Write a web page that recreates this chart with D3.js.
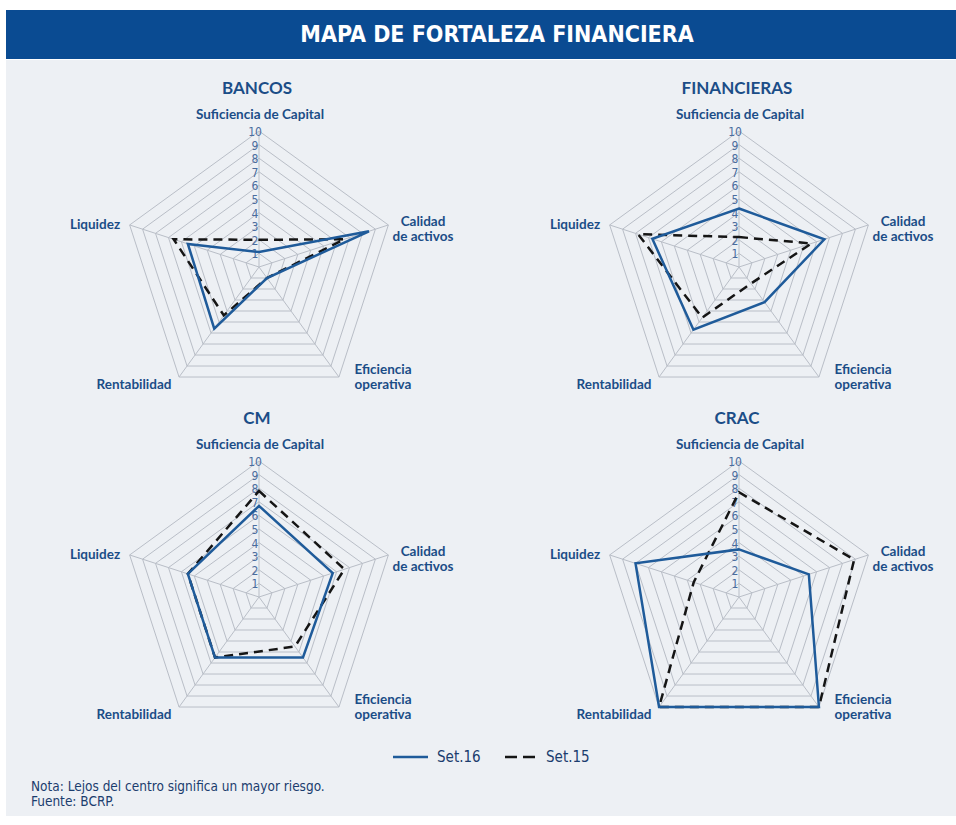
<!DOCTYPE html>
<html>
<head>
<meta charset="utf-8">
<script src="https://cdn.jsdelivr.net/npm/d3@7"></script>
<style>
body{margin:0;background:#fff;}
</style>
</head>
<body>
<div id="chart"></div>
<script>
// ejes del mapa (en el orden del radar, desde arriba en sentido horario)
const axes = ["Suficiencia de Capital","Calidad de activos","Eficiencia operativa","Rentabilidad","Liquidez"];
const axisLines = [["Suficiencia de Capital"],["Calidad","de activos"],["Eficiencia","operativa"],["Rentabilidad"],["Liquidez"]];
const panels = ["BANCOS","FINANCIERAS","CM","CRAC"];
const ticks = [1,2,3,4,5,6,7,8,9,10];
const seriesNames = ["Set.16","Set.15"];

// valores por panel, mismo orden que axes
const set16 = [
  [1.1, 8.5, 1.0, 5.6, 5.5],
  [4.3, 6.6, 3.2, 5.7, 6.7],
  [6.7, 5.7, 5.5, 5.5, 5.5],
  [3.5, 5.4, 10, 10, 8.0]
];
const set15 = [
  [2.0, 6.6, 1.0, 4.4, 6.6],
  [2.2, 5.6, 1.5, 4.6, 7.8],
  [7.8, 6.6, 4.5, 5.5, 5.5],
  [7.7, 8.9, 10, 10, 3.5]
];

let width = 956;
let height = 825;
let R = 136;
let centers = [[259,267],[739,267],[259,597],[739,597]];
// centro de las etiquetas de los ejes respecto al centro del radar
let labelPos = [
  {dx:1, dy:-148},
  {dx:164, dy:-41},
  {dx:124, dy:107},
  {dx:-125, dy:122},
  {dx:-164, dy:-38}
];
let blue = "#1f5b9a";
let labelBlue = "#1b4d87";
let narrow = "'Liberation Sans Narrow','DejaVu Sans Condensed',sans-serif";

let svg = d3.select("#chart").append("svg")
  .attr("width", width).attr("height", height);

svg.append("rect").attr("x",6).attr("y",60).attr("width",width-6).attr("height",756)
  .attr("fill","#edf0f4");
svg.append("rect").attr("x",6).attr("y",10).attr("width",width-6).attr("height",49)
  .attr("fill","#0a4b92");
svg.append("text").text("MAPA DE FORTALEZA FINANCIERA")
  .attr("x",497).attr("y",42)
  .attr("text-anchor","middle")
  .attr("fill","white")
  .style("font-family",narrow)
  .style("font-stretch","condensed")
  .style("font-weight","bold")
  .style("font-size","23px");

let r = d3.scaleLinear().domain([0,10]).range([0,R]);
let angle = i => i*2*Math.PI/axes.length;

let radar = d3.lineRadial()
  .angle((d,i)=>angle(i))
  .radius(d=>r(d))
  .curve(d3.curveLinearClosed);

panels.forEach(function(name,p){
  let cx = centers[p][0], cy = centers[p][1];
  let g = svg.append("g").attr("transform","translate("+cx+","+cy+")");

  // anillos
  g.selectAll(".ring").data(ticks).enter().append("path")
    .attr("d", t=>radar(axes.map(()=>t)))
    .attr("fill","none")
    .attr("stroke","#b9bec7")
    .attr("stroke-width",1);

  // radios
  g.selectAll(".spoke").data(axes).enter().append("line")
    .attr("x1",0).attr("y1",0)
    .attr("x2",(d,i)=>r(10)*Math.sin(angle(i)))
    .attr("y2",(d,i)=>-r(10)*Math.cos(angle(i)))
    .attr("stroke","#b9bec7")
    .attr("stroke-width",1);

  // numeros del eje
  g.selectAll(".tick").data(ticks).enter().append("text")
    .text(d=>d)
    .attr("x",-4)
    .attr("y",d=>-r(d)+5)
    .attr("text-anchor","middle")
    .attr("fill","#4a6c9e")
    .style("font-family",narrow)
    .style("font-size","12px");

  // series
  g.append("path").datum(set15[p])
    .attr("d",radar)
    .attr("fill","none")
    .attr("stroke","#151515")
    .attr("stroke-width",2.5)
    .attr("stroke-dasharray","9,6");
  g.append("path").datum(set16[p])
    .attr("d",radar)
    .attr("fill","none")
    .attr("stroke",blue)
    .attr("stroke-width",2.5);

  // etiquetas de ejes
  axisLines.forEach(function(lines,i){
    let t = g.append("text")
      .attr("y",labelPos[i].dy)
      .attr("text-anchor","middle")
      .attr("fill",labelBlue)
      .style("font-family","Lato,sans-serif")
      .style("font-weight","bold")
      .style("font-size","13.5px");
    lines.forEach(function(l,j){
      t.append("tspan").text(l)
        .attr("x",labelPos[i].dx)
        .attr("dy", j==0?0:15);
    });
  });

  g.append("text").text(name)
    .attr("x",-2).attr("y",-173)
    .attr("text-anchor","middle")
    .attr("fill",labelBlue)
    .style("font-family","Lato,sans-serif")
    .style("font-weight","bold")
    .style("font-size","17px");
});

// leyenda
let legend = svg.append("g");
let lx = [393,505];
seriesNames.forEach(function(s,i){
  legend.append("line")
    .attr("x1",lx[i]).attr("x2",lx[i]+(i==0?35:33))
    .attr("y1",757).attr("y2",757)
    .attr("stroke", i==0?blue:"#151515")
    .attr("stroke-width",2.5)
    .attr("stroke-dasharray", i==0?null:"12,6");
  legend.append("text").text(s)
    .attr("x",lx[i]+(i==0?44:41)).attr("y",762)
    .attr("fill","#1b3d6e")
    .style("font-family",narrow)
    .style("font-size","15px");
});

svg.append("text").text("Nota: Lejos del centro significa un mayor riesgo.")
  .attr("x",31).attr("y",791)
  .attr("fill","#1b3d6e")
  .style("font-family",narrow)
  .style("font-size","13.5px");
svg.append("text").text("Fuente: BCRP.")
  .attr("x",31).attr("y",806)
  .attr("fill","#1b3d6e")
  .style("font-family",narrow)
  .style("font-size","13.5px");
</script>
</body>
</html>
